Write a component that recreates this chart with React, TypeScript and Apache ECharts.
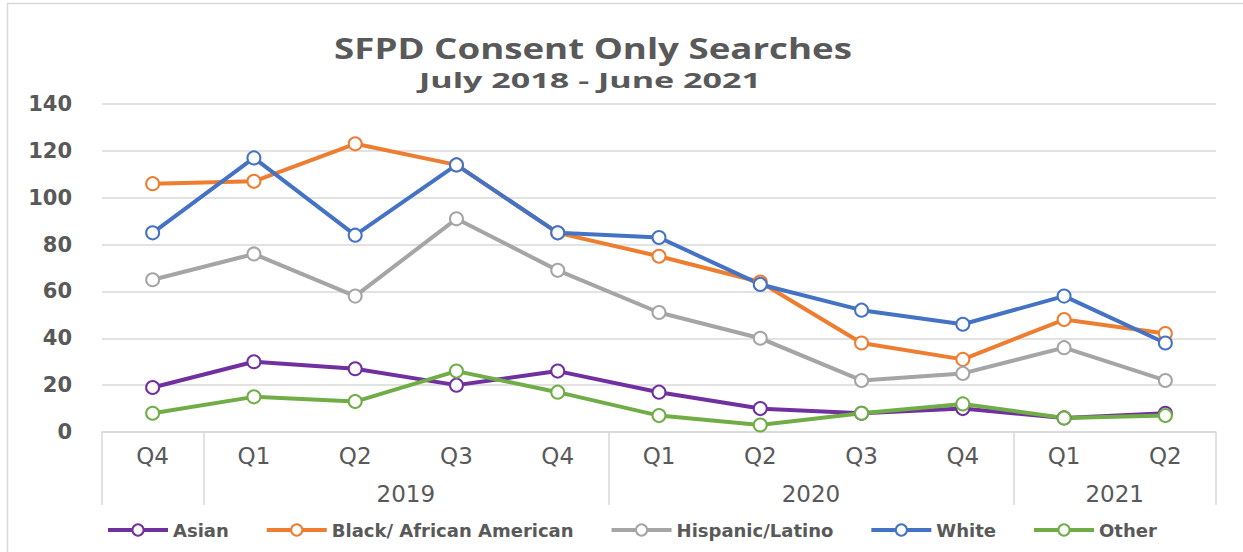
import React, { useEffect, useRef } from "react";
import * as echarts from "echarts";

const quarters = ["Q4", "Q1", "Q2", "Q3", "Q4", "Q1", "Q2", "Q3", "Q4", "Q1", "Q2"];
const yearLabels = ["2019", "2020", "2021"];
const yearCenters = [3, 7, 10];
const yearBoundaries = [0, 1, 5, 9, 11];

const asian = [19, 30, 27, 20, 26, 17, 10, 8, 10, 6, 8];
const black = [106, 107, 123, 114, 85, 75, 64, 38, 31, 48, 42];
const hispanic = [65, 76, 58, 91, 69, 51, 40, 22, 25, 36, 22];
const white = [85, 117, 84, 114, 85, 83, 63, 52, 46, 58, 38];
const other = [8, 15, 13, 26, 17, 7, 3, 8, 12, 6, 7];

const seriesNames = ["Asian", "Black/ African American", "Hispanic/Latino", "White", "Other"];
const seriesData = [asian, black, hispanic, white, other];
const colors = ["#7030A0", "#ED7D31", "#A5A5A5", "#4472C4", "#70AD47"];

const titleText = "SFPD Consent Only Searches";
const subtitleText = "July 2018 - June 2021";

const yTicks = { min: 0, max: 140, interval: 20 };

export default function App() {
  const ref = useRef<HTMLDivElement>(null);
  useEffect(() => {
    const chart = echarts.init(ref.current!, null, { renderer: "svg" });
    const gray = "#595959";
    const lineGray = "#D9D9D9";
    chart.setOption({
      animation: false,
      backgroundColor: "#ffffff",
      graphic: [
        {
          type: "rect",
          shape: { x: 7.5, y: 3.5, width: 1260, height: 580 },
          style: { fill: "none", stroke: lineGray, lineWidth: 1.5 },
          silent: true,
        },
        {
          type: "text",
          x: 593,
          y: 48,
          scaleX: 1.31,
          silent: true,
          style: {
            text: titleText,
            align: "center",
            verticalAlign: "middle",
            fontFamily: "Open Sans",
            fontWeight: "bold",
            fontSize: 28,
            fill: gray,
          },
        },
        {
          type: "text",
          x: 590,
          y: 79,
          scaleX: 1.55,
          silent: true,
          style: {
            text: subtitleText,
            align: "center",
            verticalAlign: "middle",
            fontFamily: "Open Sans",
            fontWeight: "bold",
            fontSize: 22,
            fill: gray,
          },
        },
      ],
      legend: {
        data: seriesNames,
        left: 101,
        top: 516,
        itemWidth: 60,
        itemHeight: 14,
        itemGap: 36,
        lineStyle: { width: 4 },
        textStyle: { fontFamily: "DejaVu Sans", fontWeight: "bold", fontSize: 18, color: gray },
      },
      grid: { left: 102, right: 27, top: 104, bottom: 120, containLabel: false },
      xAxis: [
        {
          type: "category",
          data: quarters,
          boundaryGap: true,
          axisLine: { show: true, lineStyle: { color: lineGray, width: 1.5 } },
          axisTick: { show: false },
          axisLabel: { margin: 12, fontFamily: "DejaVu Sans", fontSize: 23, color: gray },
          splitLine: { show: false },
        },
        {
          type: "value",
          min: 0,
          max: 11,
          interval: 1,
          position: "bottom",
          axisLine: { show: false },
          splitLine: { show: false },
          axisTick: {
            show: true,
            length: 73,
            customValues: yearBoundaries,
            lineStyle: { color: lineGray, width: 1.5 },
          },
          axisLabel: {
            show: true,
            margin: 50,
            customValues: yearCenters,
            formatter: (v: number) => {
              const i = yearCenters.indexOf(v);
              return i >= 0 ? yearLabels[i] : "";
            },
            fontFamily: "DejaVu Sans",
            fontSize: 23,
            color: gray,
          },
        },
      ],
      yAxis: {
        type: "value",
        min: yTicks.min,
        max: yTicks.max,
        interval: yTicks.interval,
        axisLine: { show: false },
        axisTick: { show: false },
        splitLine: { lineStyle: { color: lineGray, width: 1.5 } },
        axisLabel: { margin: 30, fontFamily: "DejaVu Sans", fontWeight: "bold", fontSize: 21, color: gray },
      },
      series: seriesNames.map((name, i) => ({
        name,
        type: "line",
        data: seriesData[i],
        xAxisIndex: 0,
        color: colors[i],
        symbol: "emptyCircle",
        symbolSize: 13,
        lineStyle: { width: 4, color: colors[i] },
        itemStyle: { color: colors[i], borderColor: colors[i], borderWidth: 2 },
        emphasis: { disabled: true },
      })),
    });
    return () => chart.dispose();
  }, []);
  return <div ref={ref} style={{ width: 1243, height: 552, position: "absolute", left: 0, top: 0 }} />;
}
